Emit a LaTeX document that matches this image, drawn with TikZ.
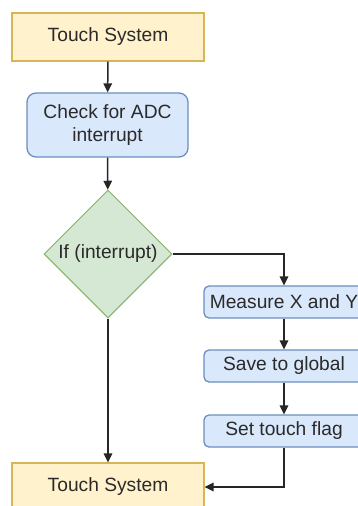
\documentclass[tikz,border=0pt]{standalone}
\usepackage{fontspec}
\setmainfont{Liberation Sans}
\usetikzlibrary{shapes.geometric,arrows.meta}
\definecolor{yfill}{HTML}{FFF2CC}
\definecolor{ydraw}{HTML}{D6B656}
\definecolor{bfill}{HTML}{DAE8FC}
\definecolor{bdraw}{HTML}{6C8EBF}
\definecolor{gfill}{HTML}{D5E8D4}
\definecolor{gdraw}{HTML}{82B366}
\definecolor{txt}{HTML}{2A2A2A}
\begin{document}
\begin{tikzpicture}[x=1pt,y=-1pt,
  every node/.style={font=\fontsize{19.2}{22.5}\selectfont, text=txt, inner sep=0pt},
  term/.style={draw=ydraw, fill=yfill, line width=1.3pt, minimum width=192pt, minimum height=48pt},
  proc/.style={draw=bdraw, fill=bfill, line width=1.3pt, rounded corners=9pt, minimum width=161pt, minimum height=64pt, align=center},
  small/.style={draw=bdraw, fill=bfill, line width=1.3pt, rounded corners=5pt, minimum width=160pt, minimum height=32pt},
  dec/.style={diamond, draw=gdraw, fill=gfill, line width=1pt, minimum width=128pt, minimum height=128pt},
  arr/.style={draw=black!85, line width=1.5pt, -{Triangle[length=9pt,width=8.5pt]}}
]
\useasboundingbox (0,0) rectangle (358,506);
\clip (0,0) rectangle (358,506);
\fill[white] (0,0) rectangle (358,506);
\node[term] (t1) at (108,37) {Touch System};
\node[proc] (c) at (107.5,125) {Check for ADC\\interrupt};
\node[dec] (d) at (108,254) {};
\node at (d) {If (interrupt)};
\node[small] (m) at (284,302) {Measure X and Y};
\node[small] (s) at (284,366) {Save to global};
\node[small] (f) at (284,431) {Set touch flag};
\node[term] (t2) at (108,487) {Touch System};
\draw[arr] (t1) -- (c);
\draw[arr] (c) -- (d);
\draw[arr] (d.east) -| (m.north);
\draw[arr] (m) -- (s);
\draw[arr] (s) -- (f);
\draw[arr] (d.south) -- (t2.north);
\draw[arr] (f.south) |- (t2.east);
\end{tikzpicture}
\end{document}
